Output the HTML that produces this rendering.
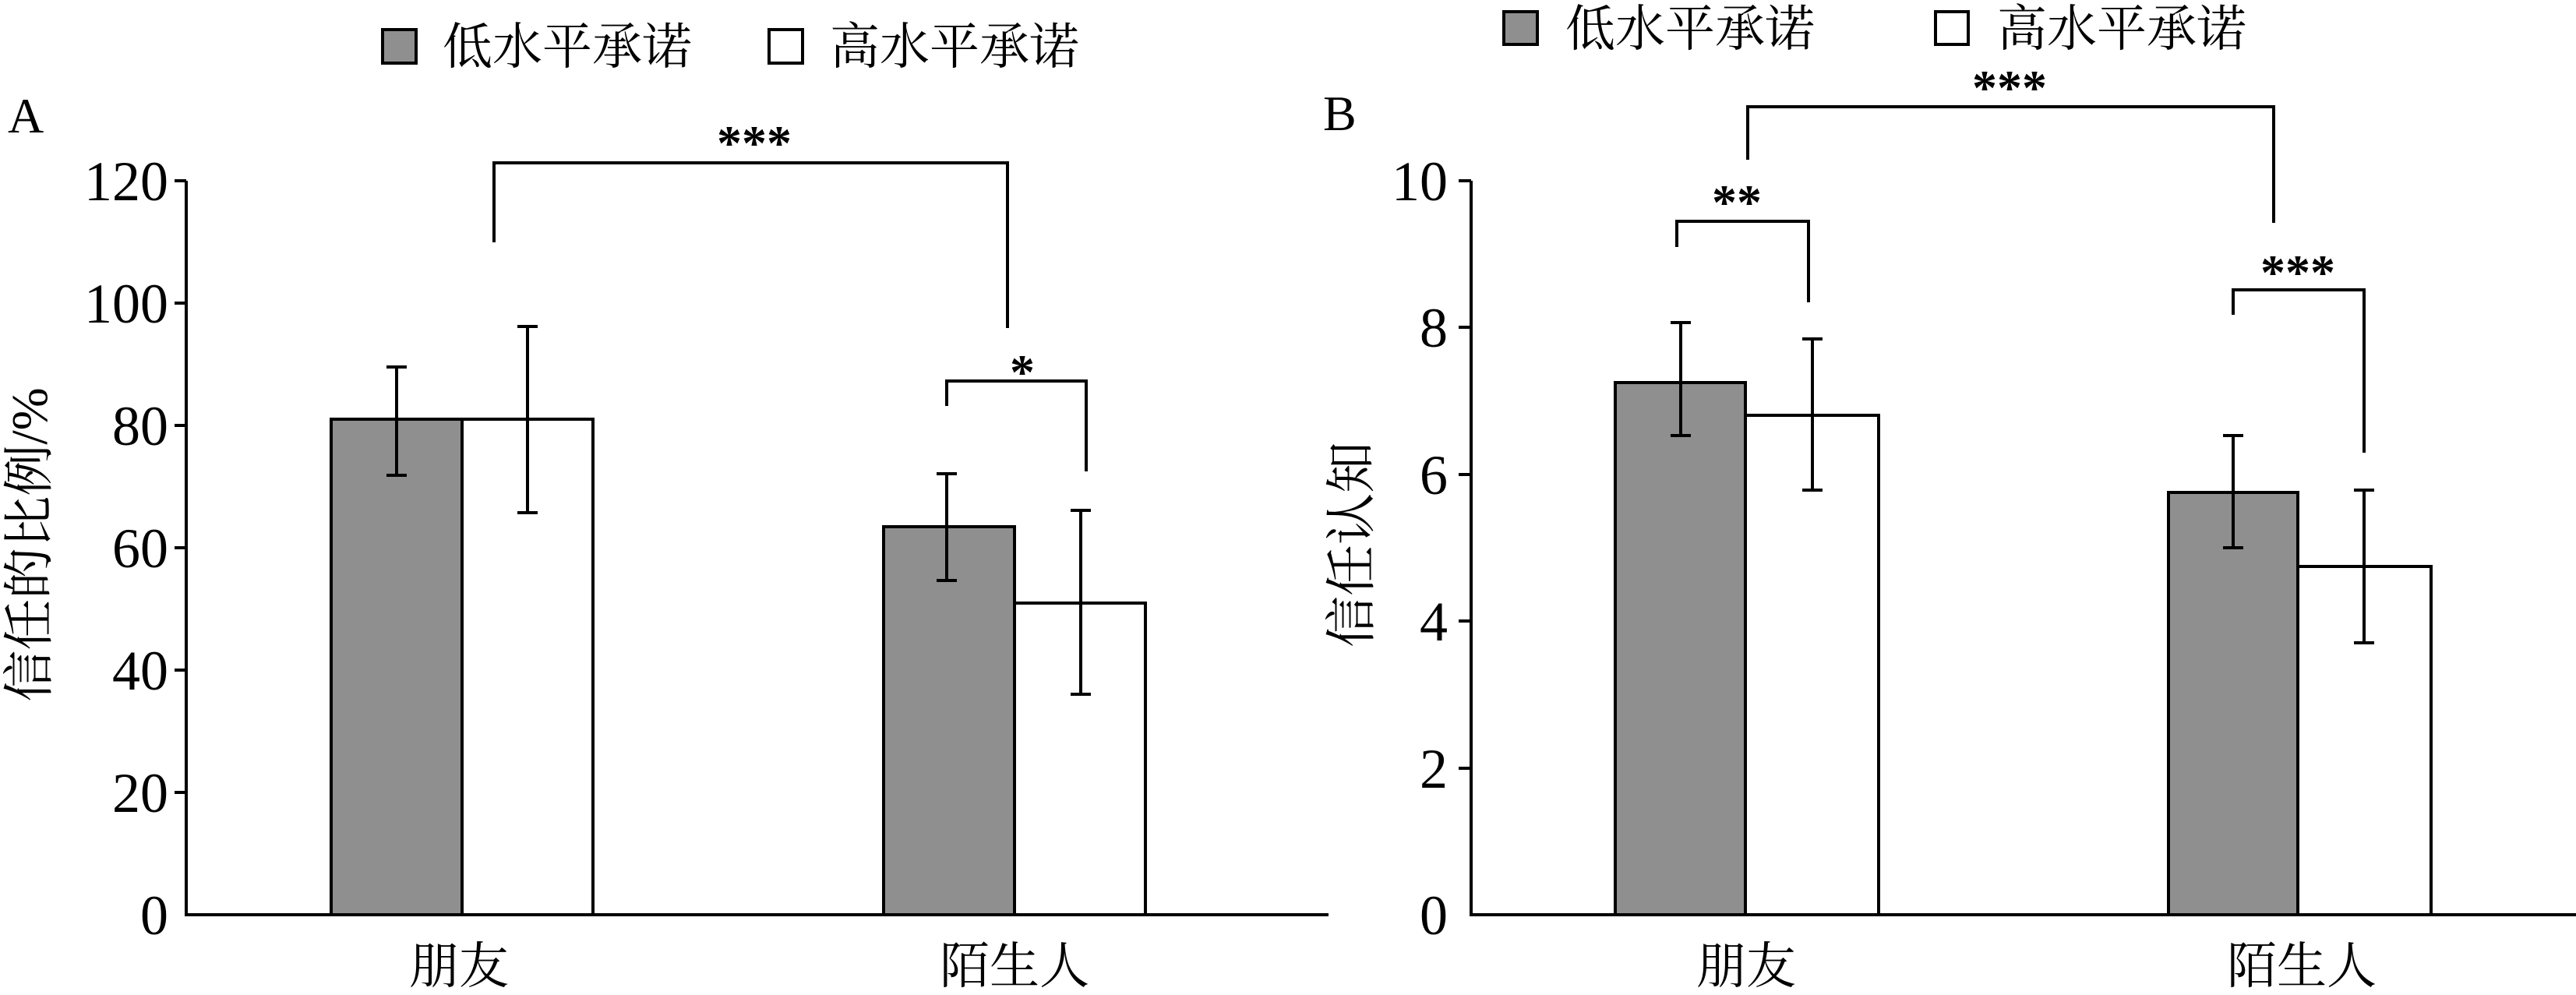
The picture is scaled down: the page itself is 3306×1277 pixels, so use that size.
<!DOCTYPE html>
<html><head><meta charset="utf-8"><style>
html,body{margin:0;padding:0;background:#fff;}
svg{display:block;}
text{font-family:"Liberation Serif","Noto Serif CJK SC","Noto Sans CJK SC",serif;fill:#000;}
</style></head><body>
<svg width="3306" height="1277" viewBox="0 0 3306 1277" xmlns="http://www.w3.org/2000/svg">
<g stroke="#000" stroke-width="4" fill="none">
<!-- Panel A axes -->
<line x1="239" y1="232" x2="239" y2="1176"/>
<line x1="237" y1="1174" x2="1705" y2="1174"/>
<line x1="224" y1="232" x2="239" y2="232"/>
<line x1="224" y1="389" x2="239" y2="389"/>
<line x1="224" y1="546" x2="239" y2="546"/>
<line x1="224" y1="703" x2="239" y2="703"/>
<line x1="224" y1="860" x2="239" y2="860"/>
<line x1="224" y1="1017" x2="239" y2="1017"/>
<!-- bars A -->
<rect x="425" y="538" width="168" height="636" fill="#8f8f8f"/>
<rect x="593" y="538" width="168" height="636" fill="#fff"/>
<rect x="1134" y="676" width="168" height="498" fill="#8f8f8f"/>
<rect x="1302" y="774" width="168" height="400" fill="#fff"/>
<!-- errors A -->
<path d="M509 471V610M496 471H522M496 610H522"/>
<path d="M677 419V658M664 419H690M664 658H690"/>
<path d="M1215 608V745M1202 608H1228M1202 745H1228"/>
<path d="M1387 655V891M1374 655H1400M1374 891H1400"/>
<!-- brackets A -->
<path d="M634 311V209H1293V421"/>
<path d="M1215 521V489H1394V605"/>
<!-- Panel B axes -->
<line x1="1888" y1="232" x2="1888" y2="1176"/>
<line x1="1886" y1="1174" x2="3306" y2="1174"/>
<line x1="1872" y1="232" x2="1888" y2="232"/>
<line x1="1872" y1="420" x2="1888" y2="420"/>
<line x1="1872" y1="609" x2="1888" y2="609"/>
<line x1="1872" y1="797" x2="1888" y2="797"/>
<line x1="1872" y1="986" x2="1888" y2="986"/>
<!-- bars B -->
<rect x="2073" y="491" width="167" height="683" fill="#8f8f8f"/>
<rect x="2240" y="533" width="171" height="641" fill="#fff"/>
<rect x="2783" y="632" width="166" height="542" fill="#8f8f8f"/>
<rect x="2949" y="727" width="171" height="447" fill="#fff"/>
<!-- errors B -->
<path d="M2157 414V559M2144 414H2170M2144 559H2170"/>
<path d="M2326 435V629M2313 435H2339M2313 629H2339"/>
<path d="M2866 559V703M2853 559H2879M2853 703H2879"/>
<path d="M3034 629V825M3021 629H3047M3021 825H3047"/>
<!-- brackets B -->
<path d="M2243 205V137H2918V286"/>
<path d="M2152 317V284H2321V388"/>
<path d="M2866 404V372H3034V581"/>
<!-- legend squares -->
<rect x="491" y="38" width="43" height="43" fill="#8f8f8f"/>
<rect x="987" y="38" width="43" height="43" fill="#fff"/>
<rect x="1930" y="15" width="43" height="42" fill="#8f8f8f"/>
<rect x="2484" y="15" width="42" height="42" fill="#fff"/>
</g>
<g font-size="64">
<text x="568" y="82">低水平承诺</text>
<text x="1065" y="82">高水平承诺</text>
<text x="2009" y="59">低水平承诺</text>
<text x="2563" y="59">高水平承诺</text>
<text x="589" y="1262" text-anchor="middle">朋友</text>
<text x="1302" y="1262" text-anchor="middle">陌生人</text>
<text x="2241" y="1262" text-anchor="middle">朋友</text>
<text x="2954" y="1262" text-anchor="middle">陌生人</text>
</g>
<text x="10" y="170" font-size="64">A</text>
<text x="1698" y="167" font-size="64">B</text>
<g font-size="72" text-anchor="end">
<text x="216" y="257">120</text>
<text x="216" y="414">100</text>
<text x="216" y="571">80</text>
<text x="216" y="728">60</text>
<text x="216" y="885">40</text>
<text x="216" y="1042">20</text>
<text x="216" y="1199">0</text>
<text x="1858" y="257">10</text>
<text x="1858" y="445">8</text>
<text x="1858" y="634">6</text>
<text x="1858" y="822">4</text>
<text x="1858" y="1011">2</text>
<text x="1858" y="1199">0</text>
</g>
<text transform="translate(60,699) rotate(-90)" font-size="66" text-anchor="middle">信任的比例/%</text>
<text transform="translate(1757,699) rotate(-90)" font-size="66" text-anchor="middle">信任认知</text>
<g font-size="64" font-weight="bold" text-anchor="middle">
<text x="968" y="205">***</text>
<text x="1312" y="499">*</text>
<text x="2579" y="134">***</text>
<text x="2229" y="281">**</text>
<text x="2949" y="371">***</text>
</g>
</svg>
</body></html>
